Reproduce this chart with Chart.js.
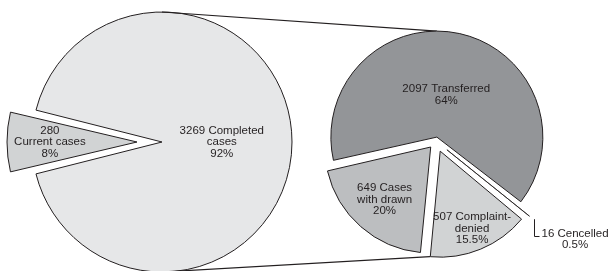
<!DOCTYPE html>
<html><head><meta charset="utf-8">
<script src="https://cdn.jsdelivr.net/npm/chart.js@4"></script>
<style>
html,body{margin:0;padding:0;background:#fff;}
#wrap{position:relative;width:610px;height:271px;overflow:hidden;}
canvas{position:absolute;left:0;top:0;}
</style></head><body>
<div id="wrap"><canvas id="c1" width="610" height="271"></canvas><canvas id="c2" width="610" height="271"></canvas></div>
<script>
// ---- data ----
const mainCategories = ['Current cases', 'Completed cases'];
const mainValues = [280, 3269];
const mainPercents = ['8%', '92%'];
const subCategories = ['Transferred', 'Cencelled', 'Complaint denied', 'Cases with drawn'];
const subValues = [2097, 16, 507, 649];
const subPercents = ['64%', '0.5%', '15.5%', '20%'];

// label text lines (built from the data)
const mainLabelLines = [
  [String(mainValues[0]), 'Current cases', mainPercents[0]],
  [mainValues[1] + ' Completed', 'cases', mainPercents[1]]
];
const subLabelLines = [
  [subValues[0] + ' Transferred', subPercents[0]],
  [subValues[1] + ' Cencelled', subPercents[1]],
  [subValues[2] + ' Complaint-', 'denied', subPercents[2]],
  [subValues[3] + ' Cases', 'with drawn', subPercents[3]]
];

// ---- styles ----
const INK = '#231f20';
const FONT = '11.5px "Liberation Sans", Arial, sans-serif';
const R1 = 130, R2 = 106;
const mainColors = ['#d1d3d4', '#e6e7e8'];
const subColors = ['#939598', '#808285', '#d1d3d4', '#bcbec0'];
const mainOffsets = [100, 0];      // chart.js divides by 4
const subOffsets = [16, 56, 44, 32];
const mainLabelK = [0.67, 0.46];
const subLabelK = [0.41, null, 0.79, 0.66];

function fixRadius(R) {
  return {
    id: 'fixRadius',
    beforeDatasetsDraw(chart) {
      chart.getDatasetMeta(0).data.forEach(el => {
        const off = (el.options.offset || 0) / 4;
        const fix = 1 - Math.sin(Math.min(Math.PI, el.circumference));
        el.outerRadius = R - off * fix;
      });
    }
  };
}

function drawLines(ctx, lines, x, y, lh) {
  const n = lines.length;
  lines.forEach((t, i) => {
    ctx.fillText(t, x, y + (i - (n - 1) / 2) * lh);
  });
}

function labelsPlugin(R, linesArr, ks) {
  return {
    id: 'labels',
    afterDatasetsDraw(chart) {
      const ctx = chart.ctx;
      ctx.save();
      ctx.font = FONT;
      ctx.fillStyle = INK;
      ctx.textBaseline = 'middle';
      chart.getDatasetMeta(0).data.forEach((el, i) => {
        const mid = (el.startAngle + el.endAngle) / 2;
        const off = (el.options.offset || 0) / 4;
        const c = Math.cos(mid), s = Math.sin(mid);
        if (ks[i] == null) {
          // outside label with leader
          const tx = el.x + c * (R + off), ty = el.y + s * (R + off);
          ctx.strokeStyle = INK; ctx.lineWidth = 1;
          ctx.beginPath();
          const lx = Math.round(tx + 4) + 0.5;
          const ly = Math.round(ty + 20) + 0.5;
          ctx.moveTo(lx, ty + 3);
          ctx.lineTo(lx, ly);
          ctx.lineTo(lx + 5, ly);
          ctx.stroke();
          ctx.textAlign = 'left';
          const x0 = tx + 12;
          ctx.fillText(linesArr[i][0], x0, ty + 18);
          const w = ctx.measureText(linesArr[i][0]).width;
          ctx.textAlign = 'center';
          ctx.fillText(linesArr[i][1], x0 + w / 2, ty + 28.5);
          return;
        }
        const d = ks[i] * R + off;
        ctx.textAlign = 'center';
        drawLines(ctx, linesArr[i], el.x + c * d, el.y + s * d, 11.5);
      });
      ctx.restore();
    }
  };
}

const mainTotal = mainValues.reduce((a, b) => a + b, 0);
const mainRotation = 270 - (mainValues[0] / mainTotal * 360) / 2;

const leftChart = new Chart(document.getElementById('c1'), {
  type: 'pie',
  data: {
    labels: mainCategories,
    datasets: [{
      data: mainValues,
      backgroundColor: mainColors,
      borderColor: INK,
      borderWidth: 1,
      offset: mainOffsets
    }]
  },
  options: {
    responsive: false,
    animation: false,
    events: [],
    rotation: mainRotation,
    radius: R1,
    layout: { padding: { left: 0, right: 286, top: 13, bottom: 0 } },
    plugins: { legend: { display: false }, tooltip: { enabled: false } }
  },
  plugins: [fixRadius(R1), labelsPlugin(R1, mainLabelLines, mainLabelK)]
});

const connectors = {
  id: 'connectors',
  beforeDatasetsDraw(chart) {
    const L = leftChart.getDatasetMeta(0).data[1];
    const arcs = chart.getDatasetMeta(0).data;
    const T = arcs[0];
    const C = arcs[2];
    const midT = (T.startAngle + T.endAngle) / 2;
    const offT = (T.options.offset || 0) / 4;
    const tx = T.x + Math.cos(midT) * offT;
    const ty = T.y - R2 + Math.sin(midT) * offT;
    const midC = (C.startAngle + C.endAngle) / 2;
    const offC = (C.options.offset || 0) / 4;
    const bx = C.x + Math.cos(C.endAngle) * R2 + Math.cos(midC) * offC;
    const by = C.y + Math.sin(C.endAngle) * R2 + Math.sin(midC) * offC;
    const ctx = chart.ctx;
    ctx.save();
    ctx.strokeStyle = INK;
    ctx.lineWidth = 1.2;
    ctx.beginPath();
    ctx.moveTo(L.x, L.y - R1);
    ctx.lineTo(tx, ty);
    ctx.moveTo(L.x, L.y + R1);
    ctx.lineTo(bx, by);
    ctx.stroke();
    ctx.restore();
  }
};

const rightChart = new Chart(document.getElementById('c2'), {
  type: 'pie',
  data: {
    labels: subCategories,
    datasets: [{
      data: subValues,
      backgroundColor: subColors,
      borderColor: INK,
      borderWidth: [1, 0.8, 1, 1],
      offset: subOffsets
    }]
  },
  options: {
    responsive: false,
    animation: false,
    events: [],
    rotation: 257,
    radius: R2,
    layout: { padding: { left: 262, right: 0, top: 11, bottom: 0 } },
    plugins: { legend: { display: false }, tooltip: { enabled: false } }
  },
  plugins: [connectors, fixRadius(R2), labelsPlugin(R2, subLabelLines, subLabelK)]
});
</script>
</body></html>
